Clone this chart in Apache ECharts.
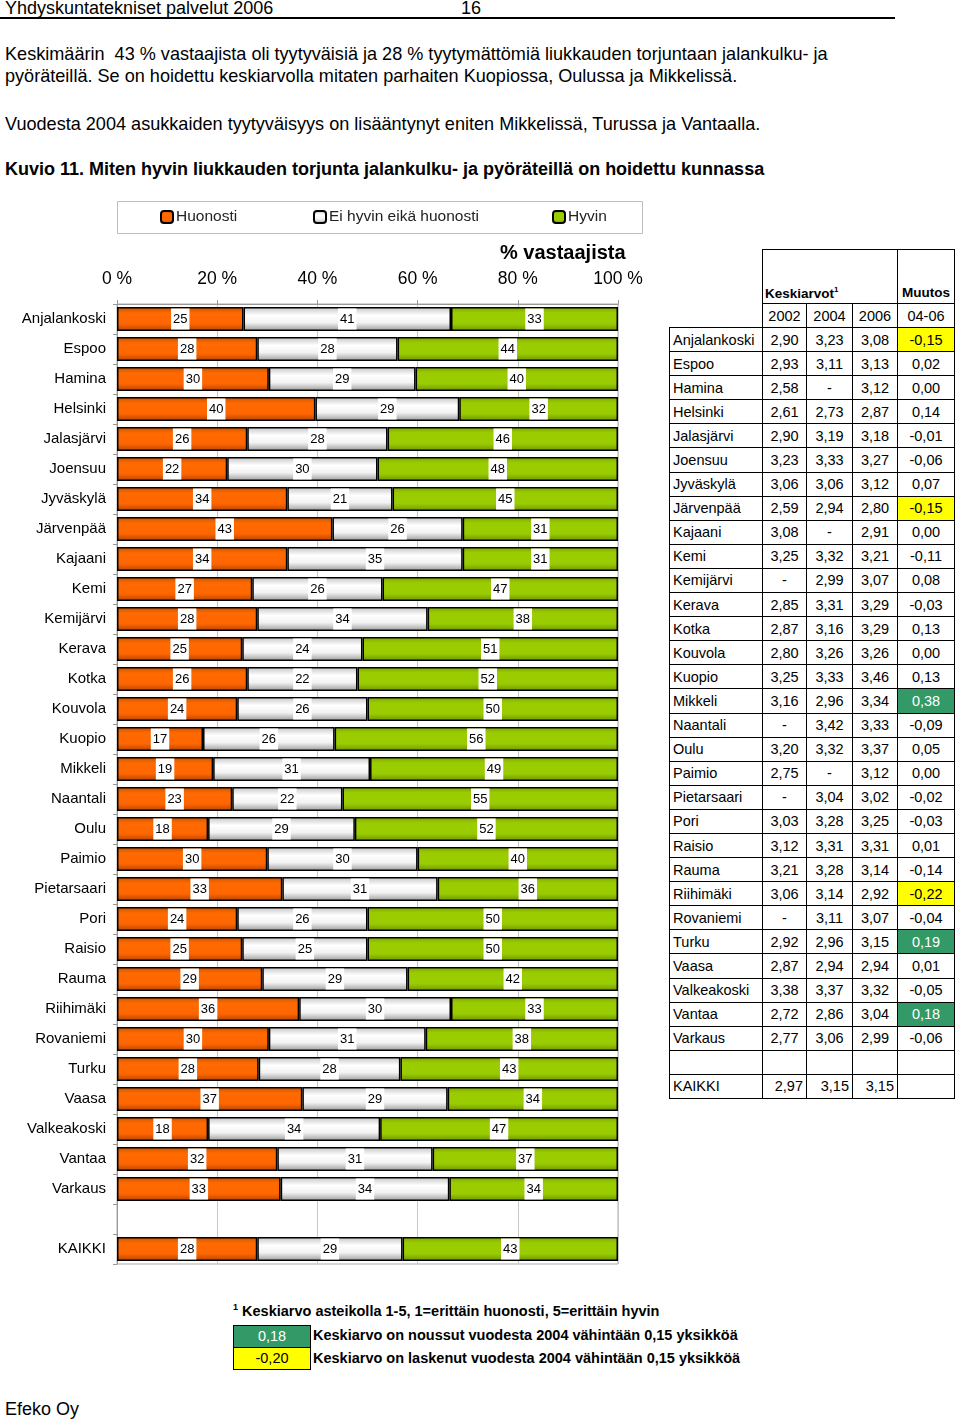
<!DOCTYPE html>
<html><head><meta charset="utf-8">
<script src="https://cdn.jsdelivr.net/npm/echarts@6/dist/echarts.min.js"></script>
<style>
body{margin:0;background:#fff;}
#page{position:relative;width:960px;height:1422px;overflow:hidden;font-family:"Liberation Sans",Arial,sans-serif;color:#000;}
.abs{position:absolute;white-space:nowrap;}
.narrow{font-family:"Liberation Sans Narrow","Arial Narrow","Liberation Sans",Arial,sans-serif;}
#tbl{position:absolute;left:669px;top:249px;border-collapse:collapse;table-layout:fixed;font-size:14.5px;font-family:"Liberation Sans",Arial,sans-serif;}
#tbl td{border:1px solid #000;padding:0 3px;text-align:center;white-space:nowrap;overflow:hidden;}
#tbl td.name{text-align:left;padding-left:3px;}
#tbl td.blank{border:none;}
#tbl td.num{text-align:center;}
#tbl tr.total td.num{text-align:right;}
#tbl td.hd{font-family:"Liberation Sans Narrow","Arial Narrow","Liberation Sans",Arial,sans-serif;font-weight:bold;vertical-align:bottom;padding-bottom:3px;font-size:13.5px;}
.box{position:absolute;border:1px solid #000;text-align:center;font-size:14.5px;line-height:21px;}
</style></head>
<body><div id="page">
<div class="abs narrow" style="left:5px;top:-2px;font-size:18px;">Yhdyskuntatekniset palvelut 2006</div>
<div class="abs narrow" style="left:461px;top:-2px;font-size:18px;">16</div>
<div class="abs" style="left:0;top:17px;width:895px;height:2px;background:#000;"></div>
<div class="abs narrow" style="left:5px;top:43px;font-size:18.1px;line-height:22px;">Keskimäärin&nbsp; 43 % vastaajista oli tyytyväisiä ja 28 % tyytymättömiä liukkauden torjuntaan jalankulku- ja<br>pyöräteillä. Se on hoidettu keskiarvolla mitaten parhaiten Kuopiossa, Oulussa ja Mikkelissä.</div>
<div class="abs narrow" style="left:5px;top:113px;font-size:18.1px;line-height:22px;">Vuodesta 2004 asukkaiden tyytyväisyys on lisääntynyt eniten Mikkelissä, Turussa ja Vantaalla.</div>
<div class="abs narrow" style="left:5px;top:158px;font-size:18px;line-height:22px;font-weight:bold;">Kuvio 11. Miten hyvin liukkauden torjunta jalankulku- ja pyöräteillä on hoidettu kunnassa</div>
<div id="chart" class="abs" style="left:0;top:190px;width:660px;height:1090px;"></div>
<table id="tbl"></table>
<div class="abs" style="left:233px;top:1302px;font-size:14.5px;font-weight:bold;"><sup style="font-size:9px;">1</sup> Keskiarvo asteikolla 1-5, 1=erittäin huonosti, 5=erittäin hyvin</div>
<div class="box" style="left:233px;top:1325px;width:76px;height:21px;background:#339966;color:#fff;">0,18</div>
<div class="box" style="left:233px;top:1347px;width:76px;height:21px;background:#ffff00;color:#000;">-0,20</div>
<div class="abs" style="left:313px;top:1327px;font-size:14.5px;font-weight:bold;">Keskiarvo on noussut vuodesta 2004 vähintään 0,15 yksikköä</div>
<div class="abs" style="left:313px;top:1350px;font-size:14.5px;font-weight:bold;">Keskiarvo on laskenut vuodesta 2004 vähintään 0,15 yksikköä</div>
<div class="abs" style="left:5px;top:1399px;font-size:18px;">Efeko Oy</div>
</div>
<script>
// ---- chart data ----
const cities = ['Anjalankoski','Espoo','Hamina','Helsinki','Jalasjärvi','Joensuu','Jyväskylä','Järvenpää','Kajaani','Kemi','Kemijärvi','Kerava','Kotka','Kouvola','Kuopio','Mikkeli','Naantali','Oulu','Paimio','Pietarsaari','Pori','Raisio','Rauma','Riihimäki','Rovaniemi','Turku','Vaasa','Valkeakoski','Vantaa','Varkaus'];
const huonosti = [25,28,30,40,26,22,34,43,34,27,28,25,26,24,17,19,23,18,30,33,24,25,29,36,30,28,37,18,32,33];
const eiHyvinEikaHuonosti = [41,28,29,29,28,30,21,26,35,26,34,24,22,26,26,31,22,29,30,31,26,25,29,30,31,28,29,34,31,34];
const hyvin = [33,44,40,32,46,48,45,31,31,47,38,51,52,50,56,49,55,52,40,36,50,50,42,33,38,43,34,47,37,34];
const totalName = 'KAIKKI';
const totalValues = [28,29,43];
const seriesNames = ['Huonosti','Ei hyvin eikä huonosti','Hyvin'];
const xTicks = [0,20,40,60,80,100];

// ---- table data ----
const avg2002 = ['2,90','2,93','2,58','2,61','2,90','3,23','3,06','2,59','3,08','3,25','-','2,85','2,87','2,80','3,25','3,16','-','3,20','2,75','-','3,03','3,12','3,21','3,06','-','2,92','2,87','3,38','2,72','2,77'];
const avg2004 = ['3,23','3,11','-','2,73','3,19','3,33','3,06','2,94','-','3,32','2,99','3,31','3,16','3,26','3,33','2,96','3,42','3,32','-','3,04','3,28','3,31','3,28','3,14','3,11','2,96','2,94','3,37','2,86','3,06'];
const avg2006 = ['3,08','3,13','3,12','2,87','3,18','3,27','3,12','2,80','2,91','3,21','3,07','3,29','3,29','3,26','3,46','3,34','3,33','3,37','3,12','3,02','3,25','3,31','3,14','2,92','3,07','3,15','2,94','3,32','3,04','2,99'];
const muutos = ['-0,15','0,02','0,00','0,14','-0,01','-0,06','0,07','-0,15','0,00','-0,11','0,08','-0,03','0,13','0,00','0,13','0,38','-0,09','0,05','0,00','-0,02','-0,03','0,01','-0,14','-0,22','-0,04','0,19','0,01','-0,05','0,18','-0,06'];
const totalAvg = ['2,97','3,15','3,15'];
const years = ['2002','2004','2006','04-06'];

// ---- build table ----
(function(){
  const t = document.getElementById('tbl');
  const colW = [93,44,46,45,57];
  let h = '<colgroup>' + colW.map(w=>'<col style="width:'+w+'px">').join('') + '</colgroup>';
  h += '<tr style="height:54px"><td class="blank"></td><td class="hd" colspan="3" style="text-align:left;padding-left:2px;">Keskiarvot<sup style="font-size:8px;">1</sup></td><td class="hd">Muutos</td></tr>';
  h += '<tr style="height:24px"><td class="blank"></td>' + years.map(y=>'<td>'+y+'</td>').join('') + '</tr>';
  cities.forEach((c,i)=>{
    const v = parseFloat(muutos[i].replace(',','.'));
    let st = '';
    if (v >= 0.15) st = 'background:#339966;color:#fff;';
    else if (v <= -0.15) st = 'background:#ffff00;';
    h += '<tr style="height:24.1px"><td class="name">'+c+'</td><td class="num">'+avg2002[i]+'</td><td class="num">'+avg2004[i]+'</td><td class="num">'+avg2006[i]+'</td><td class="num" style="'+st+'">'+muutos[i]+'</td></tr>';
  });
  h += '<tr style="height:24px"><td></td><td></td><td></td><td></td><td></td></tr>';
  h += '<tr class="total" style="height:24px"><td class="name">'+totalName+'</td>' + totalAvg.map(v=>'<td class="num">'+v+'</td>').join('') + '<td></td></tr>';
  t.innerHTML = h;
})();

// ---- chart ----
const cats = cities.concat(['', totalName]);
const raw = [huonosti, eiHyvinEikaHuonosti, hyvin].map((arr,k)=>arr.concat([null, totalValues[k]]));
const sums = cats.map((c,i)=> raw.reduce((s,a)=> s + (a[i]||0), 0));
function grad(stops){return {type:'linear',x:0,y:0,x2:0,y2:1,colorStops:stops.map(s=>({offset:s[0],color:s[1]}))};}
const fills = [
  grad([[0,'#c95000'],[0.25,'#ff6a00'],[0.7,'#ff6600'],[1,'#b34500']]),
  grad([[0,'#c4c4c4'],[0.35,'#ffffff'],[0.65,'#f2f2f2'],[1,'#9a9a9a']]),
  grad([[0,'#7aa800'],[0.25,'#9ccc00'],[0.7,'#99cc00'],[1,'#6e9400']])
];
const series = seriesNames.map((n,k)=>({
  name:n, type:'bar', stack:'t', barWidth:24,
  data: raw[k].map((v,i)=> v==null ? null : {value: v/sums[i]*100, raw: v}),
  itemStyle:{color:fills[k], borderColor:'#000', borderWidth:1.5},
  label:{show:true, position:'inside', formatter:p=>p.data.raw, backgroundColor:'#fff', color:'#000',
    fontSize:13, fontFamily:'Liberation Sans, Arial', padding:[4,2,4,2]},
  emphasis:{disabled:true}
}));
const chart = echarts.init(document.getElementById('chart'), null, {renderer:'canvas'});
chart.setOption({
  animation:false,
  title:{text:'% vastaajista', left:500, top:53, padding:0, textStyle:{fontSize:20, fontWeight:'bold', fontFamily:'Liberation Sans, Arial', color:'#000'}},
  legend: seriesNames.map((n,k)=>({data:[n], left:[160,313,552][k], top:19, padding:0, itemWidth:12, itemHeight:12, itemGap:0,
    textStyle:{fontSize:15.5, color:'#222', fontFamily:'Liberation Sans Narrow, Arial Narrow, Liberation Sans, Arial', padding:[0,0,0,-2]}, selectedMode:false})),
  graphic:[{type:'rect', shape:{x:117.5, y:11.5, width:525, height:32}, style:{fill:'none', stroke:'#bdbdbd', lineWidth:1}}],
  grid:{left:117, top:114, width:501, height:960, show:true, borderColor:'#aaa', borderWidth:1, backgroundColor:'transparent'},
  xAxis:{type:'value', position:'top', min:xTicks[0], max:xTicks[xTicks.length-1], interval:xTicks[1]-xTicks[0],
    axisLabel:{formatter:'{value} %', fontSize:17.5, color:'#000', margin:16, fontFamily:'Liberation Sans, Arial'},
    axisLine:{show:true, lineStyle:{color:'#999'}}, axisTick:{show:true, length:4, lineStyle:{color:'#999'}},
    splitLine:{show:true, lineStyle:{color:'#c8c8c8', width:1}}},
  yAxis:{type:'category', inverse:true, data:cats,
    axisLabel:{fontSize:15, color:'#000', margin:11, fontFamily:'Liberation Sans, Arial'},
    axisLine:{show:true, lineStyle:{color:'#999'}}, axisTick:{show:true, length:4, lineStyle:{color:'#999'}}},
  series: series
});
</script>
</body></html>
